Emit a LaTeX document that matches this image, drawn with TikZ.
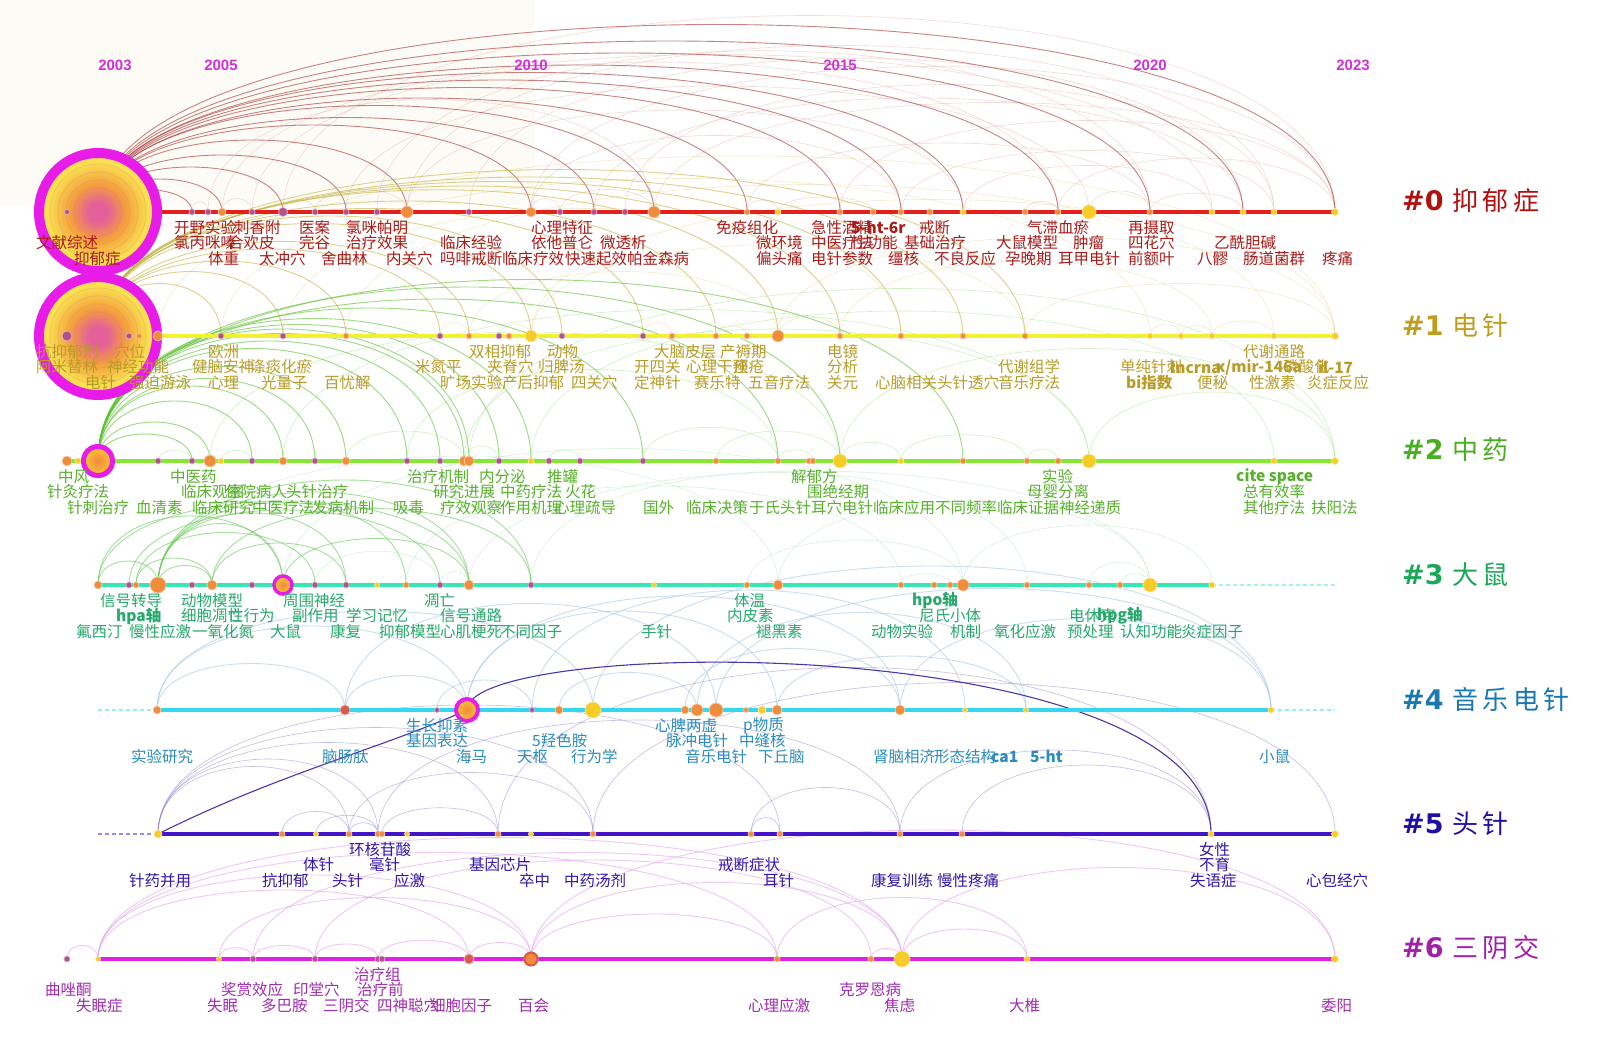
\documentclass[tikz,border=0pt]{standalone}
\usepackage{fontspec}
\newfontfamily\cjkf{Noto Sans CJK SC}
\newfontfamily\latf{Liberation Sans}
\newfontfamily\dejaf{DejaVu Sans}
\definecolor{t0}{HTML}{A81C1C}
\definecolor{t1}{HTML}{B89C28}
\definecolor{t2}{HTML}{58B02C}
\definecolor{t3}{HTML}{28A86C}
\definecolor{t4}{HTML}{2C8CBC}
\definecolor{t5}{HTML}{3418A4}
\definecolor{t6}{HTML}{A02CB0}
\definecolor{l0}{HTML}{E4201C}
\definecolor{l1}{HTML}{F2F030}
\definecolor{l2}{HTML}{84E834}
\definecolor{l3}{HTML}{34E8B4}
\definecolor{l4}{HTML}{30D8F0}
\definecolor{l5}{HTML}{4414C8}
\definecolor{l6}{HTML}{E020E4}
\definecolor{g0}{HTML}{B01010}
\definecolor{g1}{HTML}{BE9E1E}
\definecolor{g2}{HTML}{48B020}
\definecolor{g3}{HTML}{18A858}
\definecolor{g4}{HTML}{1878B0}
\definecolor{g5}{HTML}{2010A0}
\definecolor{g6}{HTML}{A020A8}
\definecolor{cp}{HTML}{B0508C}
\definecolor{co}{HTML}{F08C3C}
\definecolor{cy}{HTML}{F8CC28}
\definecolor{cr}{HTML}{D85A50}
\definecolor{mag}{HTML}{E81CE8}
\definecolor{yr}{HTML}{D030D8}
\definecolor{cpk}{HTML}{E4609A}
\definecolor{co2}{HTML}{F4A03C}
\definecolor{cyl}{HTML}{F8E050}
\definecolor{bgc}{HTML}{FDFBF5}
\definecolor{a0}{HTML}{A83030}
\definecolor{a0b}{HTML}{E4B8B0}
\definecolor{a1}{HTML}{C4B440}
\definecolor{a1b}{HTML}{E4DA98}
\definecolor{a2}{HTML}{5CC030}
\definecolor{a2b}{HTML}{A8E090}
\definecolor{a3}{HTML}{6CCB5C}
\definecolor{a3b}{HTML}{B4E4C4}
\definecolor{a4}{HTML}{A8C8E4}
\definecolor{a4d}{HTML}{4A38A8}
\definecolor{a5}{HTML}{8A7CD0}
\definecolor{a6}{HTML}{E4A4EC}
\pgfdeclareradialshading{ballA}{\pgfpoint{0bp}{0bp}}{color(0bp)=(cpk); color(4bp)=(cpk); color(12bp)=(co2); color(21bp)=(cyl); color(25bp)=(cyl); color(50bp)=(cyl)}
\pgfdeclareradialshading{ballB}{\pgfpoint{0bp}{0bp}}{color(0bp)=(co); color(10bp)=(co2); color(25bp)=(cy); color(50bp)=(cy)}
\tikzset{
  lab/.style={font=\cjkf\fontsize{15.5}{15.5}\selectfont, anchor=west, inner sep=0pt},
  lab0/.style={lab, text=t0}, lab1/.style={lab, text=t1}, lab2/.style={lab, text=t2},
  lab3/.style={lab, text=t3}, lab4/.style={lab, text=t4}, lab5/.style={lab, text=t5},
  lab6/.style={lab, text=t6},
  dotn/.style={circle, inner sep=0pt},
  arcA/.style={line width=0.9pt, draw opacity=0.6},
  arcB/.style={line width=0.6pt, draw opacity=0.5},
  rowline/.style={line width=4pt},
  extline/.style={line width=1.2pt, dash pattern=on 4pt off 3pt},
  legend/.style={anchor=west, inner sep=0pt, font=\cjkf\fontsize{26}{26}\selectfont},
  year/.style={font=\latf\bfseries\fontsize{15}{15}\selectfont, text=yr, inner sep=0pt},
  bigball/.style={circle, inner sep=0pt, draw=mag, shade, shading=ballA},
  smallball/.style={circle, inner sep=0pt, draw=mag, shade, shading=ballB},
}
\def\rowA{192/3/cp,208/3/cp,222/4/co,252/3/cp,283/4.5/cp,315/3/cp,346/3/cp,377/3/cp,407/6/co,469/3/cp,531/5/co,560/3/cp,594/3/cp,625/3/cp,654/6/co,747/3/co,778/3/cy,840/3/co,873/3/co,901/3/co,930/3/co,963/3/cy,1025/3/co,1058/3/co,1089/7/cy,1150/3/co,1212/3/cy,1243/3/cy,1274/3/cy,1335/3.5/cy,67/2.5/cp}
\def\rowB{67/5/cp,129/3/cp,139/3/co,158/5/co,221/3/cp,283/3/cp,346/3/co,440/3/cp,469/3/co,499/3/cp,509/3/co,531/6/cy,562/3/cp,643/3/cp,672/3/co,716/3/co,747/3/co,778/6/co,840/3/co,901/3/co,963/3/co,1025/3/co,1150/3/cy,1181/3/cy,1212/3/cy,1274/3/cy,1335/3.5/cy}
\def\rowC{67/5/co,78/3/cy,158/3/cp,192/3/cp,210/6/co,221/3/cy,252/3/cp,283/4/co,315/3/cp,346/4/co,407/3/cp,440/3/cp,464/5/co,469/5/co,499/3/cp,531/3/cy,549/3/cp,580/3/cp,643/3/cp,716/3/co,778/3/co,809/3/co,813/3/co,840/7/cy,901/3/cy,963/3/co,1027/3/co,1058/3/co,1089/7/cy,1274/3/cy,1335/3.5/cy}
\def\rowD{98/4/co,129/3/cp,136/3/co,158/8/co,192/3/cp,212/5/co,252/3/cp,283/3/cp,315/3/cp,346/3/cp,377/2.5/cy,406/3/co,440/3/cp,469/5/co,531/3/cp,654/2.5/cy,747/3/co,778/5/co,901/3/co,934/3/co,950/3/co,963/6/co,1027/3/co,1089/3/co,1120/3/co,1150/7/cy,1212/3/cy}
\def\rowE{157/4/co,345/5/cr,437/2.5/cp,467/3/co,532/2.5/cp,559/4/co,593/8/cy,685/4/co,697/6/co,716/7/co,746/2.5/co,762/4/cy,777/5/co,900/5/co,965/2.5/cy,1026/2.5/cy,1271/3/cy}
\def\rowF{158/4/cy,282/3/co,316/2.5/cy,349/3/co,378/3/co,382/3/co,407/2.5/cy,498/3/co,531/2.5/cy,593/3/co,751/3/co,780/3/co,900/3/co,962/3/co,1211/3/cy,1335/3.5/cy}
\def\rowG{67/3/cp,98/2.5/cy,219/2.5/cy,253/3/cp,315/3/cp,378/3/cp,382/3/cp,469/5/cr,531/7/co,777/3/co,871/3/co,902/8/cy,1027/3/cy,1335/3.5/cy}
\begin{document}
\begin{tikzpicture}[x=1pt,y=-1pt]
\useasboundingbox (0,0) rectangle (1599,1056);
\fill[white] (0,0) rectangle (1599,1056);
\fill[bgc] (0,0) rectangle (535,205);
% ---------- coordinates of the time points ----------
\coordinate (r0-0) at (98,212);
\coordinate (r1-0) at (98,336);
\coordinate (r2-0) at (98,461);
\foreach \x/\rr/\cc [count=\i] in \rowA {\coordinate (r0-\i) at (\x,212);}
\foreach \x/\rr/\cc [count=\i] in \rowB {\coordinate (r1-\i) at (\x,336);}
\foreach \x/\rr/\cc [count=\i] in \rowC {\coordinate (r2-\i) at (\x,461);}
\foreach \x/\rr/\cc [count=\i] in \rowD {\coordinate (r3-\i) at (\x,585);}
\foreach \x/\rr/\cc [count=\i] in \rowE {\coordinate (r4-\i) at (\x,710);}
\foreach \x/\rr/\cc [count=\i] in \rowF {\coordinate (r5-\i) at (\x,834);}
\foreach \x/\rr/\cc [count=\i] in \rowG {\coordinate (r6-\i) at (\x,959);}
\coordinate (r3-e) at (1335,585);
\coordinate (r4-s) at (98,710);
\coordinate (r4-e) at (1335,710);
\coordinate (r5-s) at (98,834);
% ---------- arcs ----------
\foreach \a/\b/\h in {5/30/262,9/29/222,3/27/210,11/30/194,7/25/168,13/28/152,15/30/146,18/30/122,9/22/136,11/20/102,16/26/92,20/29/82,22/27/62,24/30/72,1/2/14,3/4/18,5/6/16,11/12/18,16/17/16,23/24/14,25/26/28,12/15/30,17/19/20,26/28/25,6/9/30,2/15/150,4/24/200,8/26/215,10/28/205,14/29/170}
  \draw[arcB, a0b] (r0-\a) .. controls +(0,-\h) and +(0,-\h) .. (r0-\b);
\foreach \a/\b/\h in {0/30/250,0/28/228,0/26/212,0/24/196,0/22/186,0/20/176,0/18/166,0/16/152,0/15/142,0/13/126,0/11/116,0/9/96,0/7/76,0/5/60,0/3/44,0/1/30}
  \draw[arcA, a0] (r0-\a) .. controls +(0,-\h) and +(0,-\h) .. (r0-\b);
\foreach \a/\b/\h in {4/27/240,7/26/202,12/27/182,18/27/132,12/22/122,19/25/100,22/27/70,9/18/86,2/4/15,8/9/18,10/12/15,16/17/14,23/24/15,24/25/14,14/15/18,18/19/25,25/26/20,5/23/210,6/20/170}
  \draw[arcB, a1b] (r1-\a) .. controls +(0,-\h) and +(0,-\h) .. (r1-\b);
\foreach \a/\b/\h in {0/12/150,0/13/160,0/14/170,0/16/180,0/18/195,0/19/200,0/20/206,0/21/212,0/22/222,0/9/126,0/8/116,0/7/100,0/6/86,0/5/70,0/4/40}
  \draw[arcA, a1] (r1-\a) .. controls +(0,-\h) and +(0,-\h) .. (r1-\b);
\foreach \a/\b/\h in {5/24/172,8/29/202,13/29/176,16/30/200,24/31/150,29/31/92,11/21/122,20/24/40,3/4/14,6/7/14,13/15/20,17/18/15,21/23/15,24/25/25,27/28/16,25/27/35,19/21/45,10/13/40,14/31/230}
  \draw[arcB, a2b] (r2-\a) .. controls +(0,-\h) and +(0,-\h) .. (r2-\b);
\foreach \a/\b/\h in {0/24/232,0/21/216,0/19/204,0/16/190,0/15/182,0/14/176,0/13/170,0/12/160,0/11/150,0/10/126,0/9/110,0/8/100,0/7/80,0/5/52,0/26/242,0/4/36}
  \draw[arcA, a2] (r2-\a) .. controls +(0,-\h) and +(0,-\h) .. (r2-\b);
\foreach \a/\b/\h in {8/22/182,4/18/172,14/26/152,18/26/112,22/27/80,17/22/60,12/19/132,9/13/45,19/21/15,25/26/15,13/14/18,24/26/30,15/23/150}
  \draw[arcB, a3b] (r3-\a) .. controls +(0,-\h) and +(0,-\h) .. (r3-\b);
\foreach \a/\b/\h in {4/8/82,4/10/96,4/12/110,4/14/124,4/15/140,1/14/112,1/8/92,6/15/102,4/6/26,1/4/32,3/6/36,8/14/62,6/10/56,2/13/100,3/9/70}
  \draw[arcA, a3] (r3-\a) .. controls +(0,-\h) and +(0,-\h) .. (r3-\b);
\foreach \a/\b/\h in {1/4/112,1/7/132,2/10/142,4/13/132,4/14/152,7/17/192,10/17/162,1/2/62,2/4/46,13/16/72,8/14/82,3/5/40,6/9/50,14/17/122,5/15/160,9/16/130}
  \draw[arcA, a4] (r4-\a) .. controls +(0,-\h) and +(0,-\h) .. (r4-\b);
\foreach \a/\b/\h in {1/4/90,1/5/100,1/8/122,1/10/142,1/12/172,4/10/82,5/13/152,8/15/222,10/16/202,11/13/62,13/15/112,3/5/25,4/5/15,11/12/22,2/4/30,14/15/92,6/8/35}
  \draw[arcB, a5] (r5-\a) .. controls +(0,-\h) and +(0,-\h) .. (r5-\b);
\foreach \a/\b/\h in {2/9/112,2/8/92,2/12/162,2/10/142,3/9/82,4/12/142,9/12/102,9/14/172,12/14/122,10/13/82,5/11/132,1/2/18,3/4/15,4/5/18,5/6/20,6/8/25,8/9/22,11/12/14,12/13/40,9/10/60}
  \draw[arcA, a6] (r6-\a) .. controls +(0,-\h) and +(0,-\h) .. (r6-\b);
\draw[a4d, line width=1.1pt] (r4-4) .. controls +(0,-75) and +(0,-205) .. (r5-15);
\draw[a4d, line width=1.1pt] (r5-1) .. controls +(120,-60) and +(-90,40) .. (r4-4);
% ---------- time lines ----------
\draw[rowline, l0] (r0-0) -- (r0-30);
\draw[rowline, l1] (r1-0) -- (r1-27);
\draw[rowline, l2] (r2-1) -- (r2-31);
\draw[rowline, l3] (r3-1) -- (r3-27);
\draw[extline, l3!45!white] (r3-27) -- (r3-e);
\draw[extline, l4!50!white] (r4-s) -- (r4-1);
\draw[rowline, l4] (r4-1) -- (r4-17);
\draw[extline, l4!50!white] (r4-17) -- (r4-e);
\draw[extline, l5!50!white] (r5-s) -- (r5-1);
\draw[rowline, l5] (r5-1) -- (r5-16);
\draw[rowline, l6] (r6-2) -- (r6-14);
% ---------- large circles ----------
\node[bigball, minimum size=118, line width=10pt] (c0) at (r0-0) {};
\node[bigball, minimum size=118, line width=10pt] (c1) at (r1-0) {};
\foreach \q in {8,16,24,32,40,48} {
  \draw[cpk, draw opacity=0.22, line width=0.8pt] (c0.center) circle (\q);
  \draw[cpk, draw opacity=0.22, line width=0.8pt] (c1.center) circle (\q);
}
% ---------- dots ----------
\foreach \x/\rr/\cc [count=\i] in \rowA {\node[dotn, minimum size=2*\rr, fill=\cc, draw=\cc!45!white, line width=0.7pt] (d0-\i) at (r0-\i) {};}
\foreach \x/\rr/\cc [count=\i] in \rowB {\node[dotn, minimum size=2*\rr, fill=\cc, draw=\cc!45!white, line width=0.7pt] (d1-\i) at (r1-\i) {};}
\foreach \x/\rr/\cc [count=\i] in \rowC {\node[dotn, minimum size=2*\rr, fill=\cc, draw=\cc!45!white, line width=0.7pt] (d2-\i) at (r2-\i) {};}
\foreach \x/\rr/\cc [count=\i] in \rowD {\node[dotn, minimum size=2*\rr, fill=\cc, draw=\cc!45!white, line width=0.7pt] (d3-\i) at (r3-\i) {};}
\foreach \x/\rr/\cc [count=\i] in \rowE {\node[dotn, minimum size=2*\rr, fill=\cc, draw=\cc!45!white, line width=0.7pt] (d4-\i) at (r4-\i) {};}
\foreach \x/\rr/\cc [count=\i] in \rowF {\node[dotn, minimum size=2*\rr, fill=\cc, draw=\cc!45!white, line width=0.7pt] (d5-\i) at (r5-\i) {};}
\foreach \x/\rr/\cc [count=\i] in \rowG {\node[dotn, minimum size=2*\rr, fill=\cc, draw=\cc!45!white, line width=0.7pt] (d6-\i) at (r6-\i) {};}
% ---------- ringed hubs ----------
\node[smallball, minimum size=29, line width=5pt] (c2) at (r2-0) {};
\node[smallball, minimum size=18, line width=3.5pt] (c3) at (r3-8) {};
\node[smallball, minimum size=22, line width=4pt] (c4) at (r4-4) {};
\node[dotn, minimum size=13, fill=co, draw=cr, line width=2pt] (c6) at (r6-9) {};
% ---------- years ----------
\node[year] (y1) at (115,65) {2003};
\node[year] (y2) at (221,65) {2005};
\node[year] (y3) at (531,65) {2010};
\node[year] (y4) at (840,65) {2015};
\node[year] (y5) at (1150,65) {2020};
\node[year] (y6) at (1353,65) {2023};
% ---------- labels ----------
\foreach \x/\lv/\txt [count=\i] in {174/1/开野实验,234/1/刺香附,299/1/医案,346/1/氯咪帕明,531/1/心理特征,716/1/免疫组化,811/1/急性酒精,851/1/\bfseries 5-ht-6r,919/1/戒断,1027/1/气滞血瘀,1128/1/再摄取,36/2/文献综述,174/2/氯丙咪嗪,228/2/合欢皮,299/2/完谷,346/2/治疗效果,440/2/临床经验,531/2/依他普仑,600/2/微透析,756/2/微环境,811/2/中医疗法,851/2/性功能,904/2/基础治疗,996/2/大鼠模型,1073/2/肿瘤,1128/2/四花穴,1214/2/乙酰胆碱,74/3/抑郁症,208/3/体重,259/3/太冲穴,321/3/舍曲林,386/3/内关穴,440/3/吗啡戒断,502/3/临床疗效,565/3/快速起效,627/3/帕金森病,756/3/偏头痛,811/3/电针参数,888/3/缰核,934/3/不良反应,1005/3/孕晚期,1058/3/耳甲电针,1128/3/前额叶,1197/3/八髎,1243/3/肠道菌群,1322/3/疼痛}
  \node[lab0] (t0-\i) at (\x,{212+15.5*\lv}) {\txt};
\foreach \x/\lv/\txt [count=\i] in {36/1/抗抑郁剂,114/1/穴位,208/1/欧洲,469/1/双相抑郁,547/1/动物,654/1/大脑皮层,720/1/产褥期,827/1/电镜,1243/1/代谢通路,36/2/阿米替林,107/2/神经功能,192/2/健脑安神,250/2/涤痰化瘀,415/2/米氮平,487/2/夹脊穴,538/2/归脾汤,634/2/开四关,686/2/心理干预,733/2/痤疮,827/2/分析,998/2/代谢组学,1120/2/单纯针刺,1170/2/\bfseries lncrna,1283/2/磷酸化,1318/2/\bfseries il-17,85/3/电针,129/3/强迫游泳,208/3/心理,261/3/光量子,324/3/百忧解,440/3/旷场实验,502/3/产后抑郁,571/3/四关穴,634/3/定神针,694/3/赛乐特,748/3/五音疗法,827/3/关元,875/3/心脑相关,937/3/头针透穴,998/3/音乐疗法,1126/3/\bfseries bi指数,1197/3/便秘,1249/3/性激素,1307/3/炎症反应}
  \node[lab1] (t1-\i) at (\x,{336+15.5*\lv}) {\txt};
\node[lab1] (t1-x) at (1216,367) {\bfseries x/mir-146a};
\foreach \x/\lv/\txt [count=\i] in {58/1/中风,170/1/中医药,407/1/治疗机制,479/1/内分泌,547/1/推罐,791/1/解郁方,1042/1/实验,1236/1/\bfseries cite space,47/2/针灸疗法,181/2/临床观察,225/2/住院病人,286/2/头针治疗,433/2/研究进展,500/2/中药疗法,565/2/火花,807/2/围绝经期,1027/2/母婴分离,1243/2/总有效率,67/3/针刺治疗,136/3/血清素,192/3/临床研究,252/3/中医疗法,312/3/发病机制,393/3/吸毒,440/3/疗效观察,500/3/作用机理,554/3/心理疏导,643/3/国外,686/3/临床决策,749/3/于氏头针,811/3/耳穴电针,873/3/临床应用,935/3/不同频率,997/3/临床证据,1059/3/神经递质,1243/3/其他疗法,1311/3/扶阳法}
  \node[lab2] (t2-\i) at (\x,{461+15.5*\lv}) {\txt};
\foreach \x/\lv/\txt [count=\i] in {100/1/信号转导,181/1/动物模型,283/1/周围神经,424/1/凋亡,734/1/体温,912/1/\bfseries hpo轴,116/2/\bfseries hpa轴,181/2/细胞凋亡,228/2/性行为,292/2/副作用,346/2/学习记忆,440/2/信号通路,727/2/内皮素,919/2/尼氏小体,1069/2/电休克,1097/2/\bfseries hpg轴,76/3/氟西汀,129/3/慢性应激,192/3/一氧化氮,270/3/大鼠,330/3/康复,379/3/抑郁模型,440/3/心肌梗死,500/3/不同因子,641/3/手针,756/3/褪黑素,871/3/动物实验,950/3/机制,994/3/氧化应激,1067/3/预处理,1120/3/认知功能,1181/3/炎症因子}
  \node[lab3] (t3-\i) at (\x,{585+15.5*\lv}) {\txt};
\foreach \x/\lv/\txt [count=\i] in {406/1/生长抑素,655/1/心脾两虚,743/1/p物质,406/2/基因表达,532/2/5羟色胺,666/2/脉冲电针,739/2/中缝核,131/3/实验研究,322/3/脑肠肽,456/3/海马,517/3/天枢,571/3/行为学,685/3/音乐电针,758/3/下丘脑,873/3/肾脑相济,934/3/形态结构,991/3/\bfseries ca1,1030/3/\bfseries 5-ht,1259/3/小鼠}
  \node[lab4] (t4-\i) at (\x,{710+15.5*\lv}) {\txt};
\foreach \x/\lv/\txt [count=\i] in {349/1/环核苷酸,1199/1/女性,303/2/体针,369/2/毫针,469/2/基因芯片,718/2/戒断症状,1199/2/不育,129/3/针药并用,262/3/抗抑郁,332/3/头针,394/3/应激,519/3/卒中,564/3/中药汤剂,763/3/耳针,871/3/康复训练,937/3/慢性疼痛,1190/3/失语症,1306/3/心包经穴}
  \node[lab5] (t5-\i) at (\x,{834+15.5*\lv}) {\txt};
\foreach \x/\lv/\txt [count=\i] in {354/1/治疗组,45/2/曲唑酮,221/2/奖赏效应,293/2/印堂穴,357/2/治疗前,839/2/克罗恩病,76/3/失眠症,207/3/失眠,261/3/多巴胺,323/3/三阴交,377/3/四神聪穴,430/3/细胞因子,518/3/百会,748/3/心理应激,884/3/焦虑,1009/3/大椎,1321/3/委阳}
  \node[lab6] (t6-\i) at (\x,{959+15.5*\lv}) {\txt};
% ---------- cluster legend ----------
\node[legend, text=g0] (k0) at (1402,201) {{\dejaf\bfseries\fontsize{27}{27}\selectfont \#0}\hspace{9pt}抑\,郁\,症};
\node[legend, text=g1] (k1) at (1402,326) {{\dejaf\bfseries\fontsize{27}{27}\selectfont \#1}\hspace{9pt}电\,针};
\node[legend, text=g2] (k2) at (1402,450) {{\dejaf\bfseries\fontsize{27}{27}\selectfont \#2}\hspace{9pt}中\,药};
\node[legend, text=g3] (k3) at (1402,575) {{\dejaf\bfseries\fontsize{27}{27}\selectfont \#3}\hspace{9pt}大\,鼠};
\node[legend, text=g4] (k4) at (1402,700) {{\dejaf\bfseries\fontsize{27}{27}\selectfont \#4}\hspace{9pt}音\,乐\,电\,针};
\node[legend, text=g5] (k5) at (1402,824) {{\dejaf\bfseries\fontsize{27}{27}\selectfont \#5}\hspace{9pt}头\,针};
\node[legend, text=g6] (k6) at (1402,948) {{\dejaf\bfseries\fontsize{27}{27}\selectfont \#6}\hspace{9pt}三\,阴\,交};
\end{tikzpicture}
\end{document}
